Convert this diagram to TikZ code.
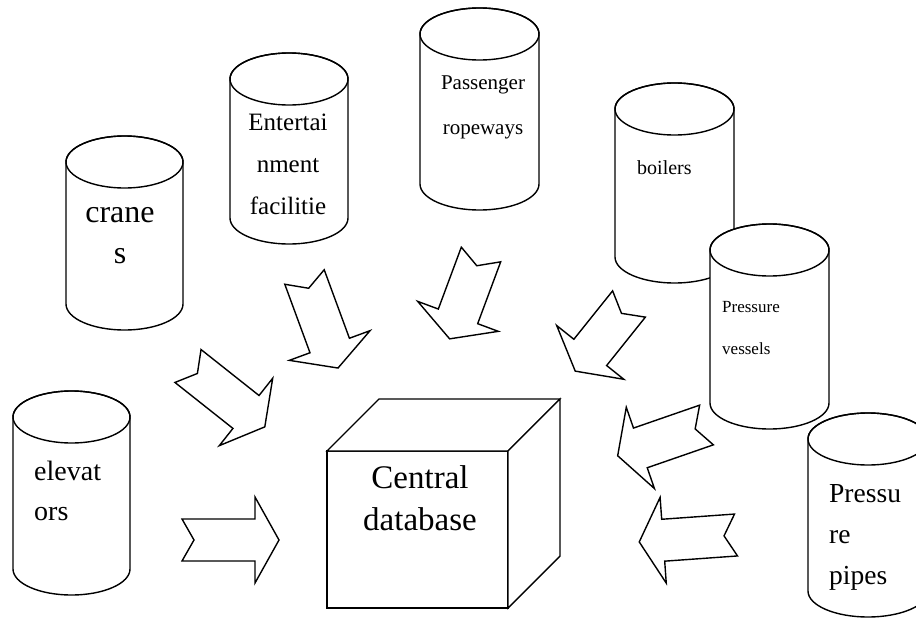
\documentclass[tikz,border=0pt]{standalone}
\usepackage{fontspec}
\setmainfont{Liberation Serif}

% upright cylinder: centre x, top y, bottom y, half width
\newcommand{\tank}[4]{%
  \filldraw[outline,fill=white] (#1-#4,#2+26) -- (#1-#4,#3-26)
    arc[start angle=180,end angle=360,x radius=#4pt,y radius=26pt]
    -- (#1+#4,#2+26)
    arc[start angle=0,end angle=180,x radius=#4pt,y radius=26pt] -- cycle;
  \draw[outline] (#1,#2+26) ellipse[x radius=#4pt,y radius=26pt];}

% notched block arrow: tail midpoint x, y, direction, shaft length
\newcommand{\notcharrow}[4]{%
  \draw[outline,fill=white,shift={(#1,#2)},rotate=#3]
    (0,21) -- (#4,21) -- (#4,43) -- (#4+24,0) -- (#4,-43) -- (#4,-21)
    -- (0,-21) -- (12,0) -- cycle;}

\tikzset{
  outline/.style={line width=1.4pt,line join=miter,draw=black},
  lbl/.style={anchor=base,inner sep=0pt},
  lblw/.style={anchor=base west,inner sep=0pt},
}

\begin{document}
\begin{tikzpicture}[x=1pt,y=-1pt]
\useasboundingbox (0,0) rectangle (916,618);
\clip (0,0) rectangle (916,618);

% block arrows pointing at the database
\notcharrow{188}{366}{-38.4}{74}
\notcharrow{304.5}{277}{-69.8}{73}
\notcharrow{481}{254.5}{-110.4}{66}
\notcharrow{629}{304}{-128.7}{62}
\notcharrow{706.5}{425}{-160.9}{70}
\notcharrow{736}{535}{-175.9}{73}
\notcharrow{182}{540}{0}{73}

% equipment stores
\tank{124.5}{136}{330}{58.5}
\tank{289}{53}{244}{59}
\tank{479.5}{8}{210}{59.5}
\tank{674.5}{83}{283}{59.5}
\tank{769.5}{224}{429}{59.5}
\tank{868}{413}{617}{60}
\tank{71.5}{391}{595}{58.5}

% central database cube
\filldraw[outline,fill=white] (327,451) rectangle (508,608);
\filldraw[outline,fill=white] (327,451) -- (379,399) -- (560,399) -- (508,451) -- cycle;
\filldraw[outline,fill=white] (508,451) -- (560,399) -- (560,556) -- (508,608) -- cycle;

% labels
\begin{scope}[font=\fontsize{32}{38}\selectfont]
  \node[lbl] (cr1) at (120,222) {crane};
  \node[lbl] (cr2) at (120,263) {s};
\end{scope}
\begin{scope}[font=\fontsize{25}{30}\selectfont]
  \node[lbl] (en1) at (288,130) {Entertai};
  \node[lbl] (en2) at (288,172) {nment};
  \node[lbl] (en3) at (288,214) {facilitie};
\end{scope}
\begin{scope}[font=\fontsize{21}{25}\selectfont]
  \node[lbl] (pr1) at (483,89) {Passenger};
  \node[lbl] (pr2) at (483,134) {ropeways};
\end{scope}
\node[lblw,font=\fontsize{20}{24}\selectfont] (bo) at (637,174) {boilers};
\begin{scope}[font=\fontsize{17}{20}\selectfont]
  \node[lblw] (pv1) at (722,312) {Pressure};
  \node[lblw] (pv2) at (722,354) {vessels};
\end{scope}
\begin{scope}[font=\fontsize{27.5}{33}\selectfont]
  \node[lblw] (pp1) at (829,502) {Pressu};
  \node[lblw] (pp2) at (829,543) {re};
  \node[lblw] (pp3) at (829,584) {pipes};
\end{scope}
\begin{scope}[font=\fontsize{28}{33}\selectfont]
  \node[lblw] (el1) at (34,480) {elevat};
  \node[lblw] (el2) at (34,520) {ors};
\end{scope}
\begin{scope}[font=\fontsize{33}{40}\selectfont]
  \node[lbl] (db1) at (420,488) {Central};
  \node[lbl] (db2) at (420,530) {database};
\end{scope}
\end{tikzpicture}
\end{document}
